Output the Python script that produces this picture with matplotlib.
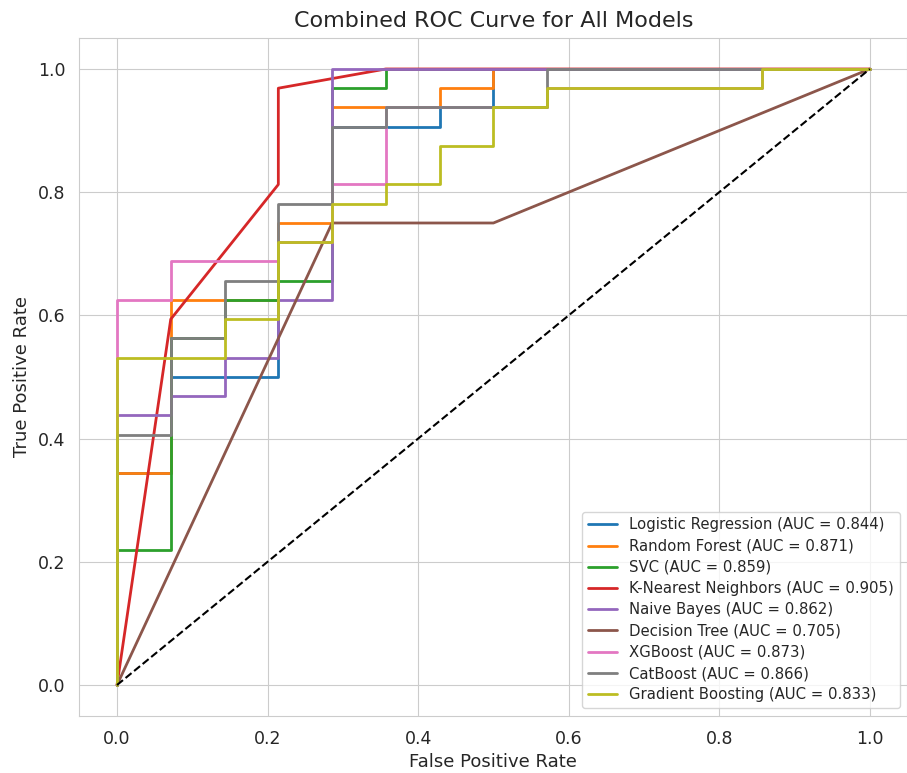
import numpy as np
import matplotlib
matplotlib.use('Agg')
import matplotlib.pyplot as plt
import seaborn as sns

# ROC points (fpr, tpr) for each model
models = ['Logistic Regression', 'Random Forest', 'SVC', 'K-Nearest Neighbors',
          'Naive Bayes', 'Decision Tree', 'XGBoost', 'CatBoost', 'Gradient Boosting']
auc_values = [0.844, 0.871, 0.859, 0.905, 0.862, 0.705, 0.873, 0.866, 0.833]

fpr_lr = [0, 0, 0.0714, 0.0714, 0.2143, 0.2143, 0.2857, 0.2857, 0.4286, 0.4286, 0.5, 0.5, 1.0]
tpr_lr = [0, 0.3438, 0.3438, 0.5, 0.5, 0.7188, 0.7188, 0.9062, 0.9062, 0.9375, 0.9375, 1.0, 1.0]

fpr_rf = [0, 0, 0.0714, 0.0714, 0.2143, 0.2143, 0.2857, 0.2857, 0.4286, 0.4286, 0.5, 0.5, 1.0]
tpr_rf = [0, 0.3438, 0.3438, 0.625, 0.625, 0.75, 0.75, 0.9375, 0.9375, 0.9688, 0.9688, 1.0, 1.0]

fpr_svc = [0, 0, 0.0714, 0.0714, 0.1429, 0.1429, 0.2143, 0.2143, 0.2857, 0.2857, 0.3571, 0.3571, 1.0]
tpr_svc = [0, 0.2188, 0.2188, 0.5625, 0.5625, 0.625, 0.625, 0.6562, 0.6562, 0.9688, 0.9688, 1.0, 1.0]

fpr_knn = [0, 0.0714, 0.2143, 0.2143, 0.3571, 1.0]
tpr_knn = [0, 0.5938, 0.8125, 0.9688, 1.0, 1.0]

fpr_nb = [0, 0, 0.0714, 0.0714, 0.1429, 0.1429, 0.2143, 0.2143, 0.2857, 0.2857, 1.0]
tpr_nb = [0, 0.4375, 0.4375, 0.4688, 0.4688, 0.5312, 0.5312, 0.625, 0.625, 1.0, 1.0]

fpr_dt = [0, 0.2857, 0.5, 1.0]
tpr_dt = [0, 0.75, 0.75, 1.0]

fpr_xgb = [0, 0, 0.0714, 0.0714, 0.2143, 0.2143, 0.2857, 0.2857, 0.3571, 0.3571, 0.5714, 0.5714, 0.8571, 0.8571, 1.0]
tpr_xgb = [0, 0.625, 0.625, 0.6875, 0.6875, 0.7188, 0.7188, 0.8125, 0.8125, 0.9375, 0.9375, 0.9688, 0.9688, 1.0, 1.0]

fpr_cat = [0, 0, 0.0714, 0.0714, 0.1429, 0.1429, 0.2143, 0.2143, 0.2857, 0.2857, 0.3571, 0.3571, 0.5714, 0.5714, 1.0]
tpr_cat = [0, 0.4062, 0.4062, 0.5625, 0.5625, 0.6562, 0.6562, 0.7812, 0.7812, 0.9062, 0.9062, 0.9375, 0.9375, 1.0, 1.0]

fpr_gb = [0, 0, 0.1429, 0.1429, 0.2143, 0.2143, 0.2857, 0.2857, 0.3571, 0.3571, 0.4286, 0.4286,
          0.5, 0.5, 0.5714, 0.5714, 0.8571, 0.8571, 1.0]
tpr_gb = [0, 0.5312, 0.5312, 0.5938, 0.5938, 0.7188, 0.7188, 0.7812, 0.7812, 0.8125, 0.8125, 0.875,
          0.875, 0.9375, 0.9375, 0.9688, 0.9688, 1.0, 1.0]

fprs = [fpr_lr, fpr_rf, fpr_svc, fpr_knn, fpr_nb, fpr_dt, fpr_xgb, fpr_cat, fpr_gb]
tprs = [tpr_lr, tpr_rf, tpr_svc, tpr_knn, tpr_nb, tpr_dt, tpr_xgb, tpr_cat, tpr_gb]

sns.set_style('whitegrid')
plt.rcParams['font.family'] = ['DejaVu Sans']

fig = plt.figure(figsize=(9.07, 7.73), dpi=100)
ax = fig.add_axes([0.0875, 0.074, 0.913, 0.8766])

for name, fpr, tpr, auc in zip(models, fprs, tprs, auc_values):
    ax.plot(fpr, tpr, lw=2, label=f'{name} (AUC = {auc:.3f})')

ax.plot([0, 1], [0, 1], 'k--', lw=1.5)

ax.set_xlim(-0.05, 1.05)
ax.set_ylim(-0.05, 1.05)
ax.set_title('Combined ROC Curve for All Models', fontsize=16, pad=8)
ax.set_xlabel('False Positive Rate', fontsize=13)
ax.set_ylabel('True Positive Rate', fontsize=13, labelpad=5)
ax.tick_params(labelsize=12.5, pad=6.5)
ax.legend(loc='lower right', fontsize=10.7, labelspacing=0.42)

fig.savefig('out.png', dpi=100)
